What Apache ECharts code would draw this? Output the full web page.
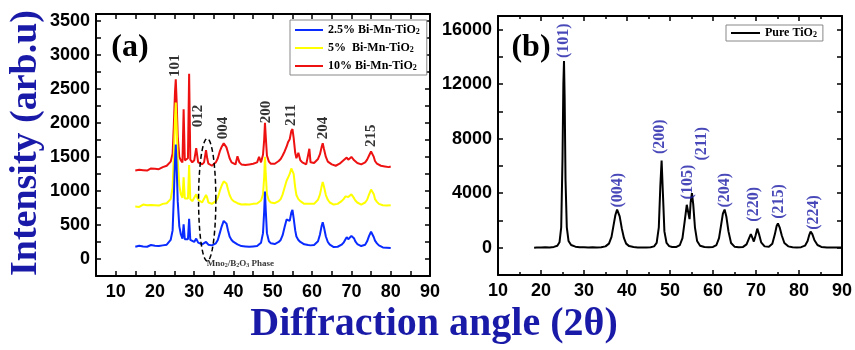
<!DOCTYPE html>
<html>
<head>
<meta charset="utf-8">
<script src="https://cdn.jsdelivr.net/npm/echarts@6/dist/echarts.min.js"></script>
<style>
  html, body { margin: 0; padding: 0; background: #fff; }
  #chart { width: 855px; height: 350px; }
</style>
</head>
<body>
<div id="chart"></div>
<script>
// 2-theta grid shared by the three doped samples (panel a)
var angleA = [
  15, 15.5, 16, 16.5, 17, 17.5, 18, 18.5, 19, 19.5,
  20, 20.5, 21, 21.5, 22, 22.5, 23, 23.5, 24, 24.5,
  24.8, 25.1, 25.3, 25.5, 25.8, 26.2, 26.6, 27.0, 27.3, 27.6,
  28.0, 28.4, 28.7, 29.0, 29.5, 30.0, 30.5, 31.0, 31.5, 32.0,
  32.5, 33.0, 33.3, 33.6, 34.0, 34.5, 35.0, 35.5, 36.0, 36.5,
  37.0, 37.5, 37.8, 38.2, 38.6, 39.0, 39.5, 40.0, 40.5, 41.0,
  41.5, 42.0, 42.5, 43.0, 43.5, 44.0, 44.5, 45.0, 45.5, 46.0,
  46.5, 47.0, 47.5, 47.8, 48.0, 48.2, 48.5, 49.0, 49.5, 50.0,
  50.5, 51.0, 51.5, 52.0, 52.5, 53.0, 53.5, 53.9, 54.3, 54.7,
  55.0, 55.3, 55.7, 56.0, 56.5, 57.0, 57.5, 58.0, 58.5, 59.0,
  59.3, 59.6, 60.0, 60.5, 61.0, 61.5, 62.0, 62.4, 62.7, 63.0,
  63.5, 64.0, 64.5, 65.0, 65.5, 66.0, 66.5, 67.0, 67.5, 68.0,
  68.5, 68.8, 69.2, 69.6, 70.0, 70.3, 70.7, 71.0, 71.5, 72.0,
  72.5, 73.0, 73.5, 74.0, 74.5, 75.0, 75.3, 75.7, 76.0, 76.5,
  77.0, 77.5, 78.0, 78.5, 79.0, 79.5, 80.0
];
var blue25 = [
  180, 170, 195, 175, 185, 200, 180, 190, 205, 185,
  195, 210, 190, 205, 200, 215, 210, 230, 280, 420,
  900, 1450, 1680, 1400, 850, 480, 360, 300, 510, 290,
  270, 290, 590, 280, 260, 250, 300, 240, 230, 215,
  220, 250, 235, 210, 215, 200, 210, 230, 280, 380,
  480, 560, 575, 520, 420, 330, 280, 250, 230, 215,
  200, 190, 175, 185, 170, 180, 165, 185, 175, 190,
  210, 240, 380, 700, 990, 720, 380, 260, 230, 210,
  220, 230, 250, 280, 350, 470, 580, 600, 560, 680,
  720, 600, 420, 330, 280, 250, 230, 215, 200, 205,
  220, 200, 195, 205, 220, 260, 360, 480, 540, 470,
  330, 250, 210, 190, 175, 165, 180, 190, 210, 240,
  290, 320, 290, 300, 340, 350, 300, 260, 220, 200,
  190, 195, 210, 260, 340, 400, 390, 320, 270, 230,
  200, 180, 170, 175, 165, 170, 160
];
var yellow5 = [
  770, 790, 765, 780, 800, 775, 790, 770, 795, 780,
  790, 805, 785, 800, 810, 795, 820, 830, 880, 1050,
  1500, 2050, 2300, 2000, 1450, 1080, 950, 900, 1200, 890,
  870, 890, 1380, 880, 850, 860, 950, 870, 850, 830,
  840, 940, 900, 830, 820, 810, 830, 850, 900, 1000,
  1080, 1140, 1160, 1110, 1020, 940, 880, 850, 830, 820,
  810, 800, 790, 805, 785, 800, 790, 810, 800, 815,
  830, 860, 950, 1200, 1500, 1250, 950, 860, 830, 815,
  820, 830, 850, 880, 950, 1050, 1150, 1200, 1250, 1330,
  1350, 1250, 1050, 940, 880, 850, 830, 810, 800, 810,
  830, 810, 800, 810, 830, 870, 950, 1060, 1130, 1070,
  940, 870, 830, 810, 800, 790, 810, 820, 850, 880,
  920, 940, 910, 920, 950, 930, 890, 860, 830, 815,
  800, 810, 830, 870, 950, 1020, 1010, 950, 880, 840,
  810, 800, 790, 800, 785, 795, 790
];
var red10 = [
  1300, 1290, 1310, 1285, 1305, 1320, 1300, 1315, 1330, 1310,
  1325, 1340, 1320, 1345, 1350, 1340, 1370, 1380, 1430, 1550,
  1950, 2450, 2640, 2350, 1800, 1500, 1450, 1420, 2200, 1450,
  1440, 1480, 2720, 1460, 1420, 1450, 1630, 1420, 1400, 1390,
  1420, 1600, 1480, 1400, 1380, 1370, 1390, 1420, 1480, 1580,
  1650, 1700, 1690, 1640, 1560, 1480, 1420, 1400, 1390, 1510,
  1420, 1390, 1370, 1380, 1360, 1390, 1370, 1400, 1380, 1420,
  1500, 1420, 1530, 1750, 2000, 1800, 1520, 1430, 1400, 1390,
  1400, 1420, 1440, 1470, 1520, 1580, 1650, 1720, 1760, 1880,
  1910, 1780, 1560, 1480, 1560, 1450, 1420, 1400, 1390, 1410,
  1620, 1420, 1400, 1410, 1430, 1470, 1540, 1640, 1700, 1620,
  1500, 1430, 1410, 1390, 1380, 1370, 1390, 1400, 1420, 1450,
  1470, 1490, 1460, 1480, 1500, 1490, 1450, 1430, 1410, 1400,
  1390, 1400, 1420, 1460, 1520, 1580, 1570, 1500, 1440, 1400,
  1380, 1370, 1380, 1360, 1370, 1350, 1360
];
var seriesNamesA = ['2.5% Bi-Mn-TiO2', '5%  Bi-Mn-TiO2', '10% Bi-Mn-TiO2'];

// pure TiO2 pattern (panel b): [2theta, intensity]
var pureTiO2 = [
  [18.4, 0], [19, 20], [20, 10], [21, 30], [22, 20], [23, 60], [23.8, 150], [24.3, 400],
  [24.7, 1500], [25.0, 6500], [25.2, 12000], [25.35, 13700], [25.5, 11000], [25.7, 5000],
  [26.0, 1500], [26.4, 500], [27.0, 200], [28, 80], [29, 40], [30, 30], [31, 20], [32, 30],
  [33, 20], [34, 40], [35, 100], [35.8, 300], [36.4, 800], [36.9, 1700], [37.3, 2400],
  [37.7, 2800], [37.9, 2750], [38.3, 2300], [38.8, 1400], [39.3, 700], [39.8, 300],
  [40.5, 120], [41.5, 50], [42.5, 20], [43.5, 10], [44.5, 20], [45.5, 40], [46.3, 100],
  [46.9, 350], [47.4, 1500], [47.75, 4500], [48.05, 6400], [48.35, 4000], [48.7, 1200],
  [49.2, 350], [49.8, 120], [50.5, 50], [51.5, 60], [52.3, 200], [52.9, 700], [53.4, 1900],
  [53.9, 3150], [54.3, 2500], [54.55, 2100], [54.8, 3300], [55.1, 4000], [55.4, 3200],
  [55.8, 1500], [56.3, 500], [57, 150], [58, 50], [59, 30], [60, 60], [60.8, 200],
  [61.4, 700], [61.9, 1700], [62.3, 2500], [62.7, 2800], [63.1, 2300], [63.6, 1200],
  [64.2, 350], [65, 80], [66, 30], [67, 60], [67.8, 250], [68.4, 700], [68.8, 1000],
  [69.2, 700], [69.5, 450], [69.9, 900], [70.3, 1400], [70.7, 1000], [71.2, 400], [72, 100],
  [73, 80], [73.8, 300], [74.4, 1000], [74.8, 1600], [75.1, 1780], [75.5, 1500], [76.0, 900],
  [76.6, 350], [77.5, 100], [78.5, 40], [79.5, 20], [80.5, 40], [81.4, 150], [82.0, 500],
  [82.4, 950], [82.7, 1180], [83.1, 1000], [83.6, 550], [84.3, 200], [85.2, 60], [86.5, 20],
  [88, 10], [89, 20], [90, 10]
];

// peak labels
var peaksA = ['101', '012', '004', '200', '211', '204', '215'];
var peaksAX = [25.1, 31.0, 37.3, 48.3, 54.6, 62.8, 75.0];
var peaksAY = [2840, 2100, 1925, 2160, 2115, 1925, 1810];
var peaksB = ['(101)', '(004)', '(200)', '(105)', '(211)', '(204)', '(220)', '(215)', '(224)'];
var peaksBX = [25.3, 37.8, 47.6, 54.1, 57.3, 62.7, 69.6, 75.4, 83.5];
var peaksBY = [15185, 4220, 8150, 4815, 7630, 4220, 3185, 3400, 2590];

// dashed ellipse round the MnO2/B2O3 region: centre x, centre y, radius x, radius y
var phaseEllipse = [33.3, 870, 2.2, 900];
var phaseLabelAt = [33.2, -75];

var serif = '"Liberation Serif", "Times New Roman", serif';
var sans = '"Liberation Sans", Arial, sans-serif';
var navy = '#1a1aa8';

function zip(xs, ys) {
  return xs.map(function (x, i) { return [x, ys[i]]; });
}

var tickLabel = { fontFamily: sans, fontWeight: 'bold', fontSize: 18, color: '#000' };
var frameLine = { show: true, onZero: false, lineStyle: { color: '#000', width: 2 } };
var tickIn = { show: true, inside: true, length: 5, lineStyle: { color: '#000', width: 1.5 } };

function axis(extra) {
  var base = {
    type: 'value', axisLine: frameLine, axisTick: tickIn,
    splitLine: { show: false }, axisLabel: { show: false }
  };
  return Object.assign(base, extra);
}

var chart = echarts.init(document.getElementById('chart'), null, { renderer: 'canvas' });

var option = {
  animation: false,
  backgroundColor: '#fff',
  grid: [
    { left: 96, top: 14, width: 334, height: 262 },
    { left: 498, top: 16, width: 345, height: 259 }
  ],
  xAxis: [
    axis({ gridIndex: 0, position: 'bottom', min: 5, max: 90, interval: 5,
      axisLabel: Object.assign({ margin: 7, formatter: function (v) { return v % 10 === 0 ? v : ''; } }, tickLabel) }),
    axis({ gridIndex: 0, position: 'top', min: 5, max: 90, interval: 5 }),
    axis({ gridIndex: 1, position: 'bottom', min: 10, max: 90, interval: 10,
      minorTick: { show: true, splitNumber: 2, length: 3, lineStyle: { color: '#000', width: 1.5 } },
      axisLabel: Object.assign({ margin: 7 }, tickLabel) }),
    axis({ gridIndex: 1, position: 'top', min: 10, max: 90, interval: 10,
      minorTick: { show: true, splitNumber: 2, length: 3, lineStyle: { color: '#000', width: 1.5 } } })
  ],
  yAxis: [
    axis({ gridIndex: 0, position: 'left', min: -250, max: 3600, interval: 250,
      axisLabel: Object.assign({ margin: 6, formatter: function (v) { return (v >= 0 && v % 500 === 0) ? v : ''; } }, tickLabel) }),
    axis({ gridIndex: 0, position: 'right', min: -250, max: 3600, interval: 250 }),
    axis({ gridIndex: 1, position: 'left', min: -2000, max: 17000, interval: 2000,
      axisLabel: Object.assign({ margin: 6, formatter: function (v) { return (v >= 0 && v % 4000 === 0) ? v : ''; } }, tickLabel) }),
    axis({ gridIndex: 1, position: 'right', min: -2000, max: 17000, interval: 2000 })
  ],
  legend: [
    {
      data: seriesNamesA, orient: 'vertical', left: 290, top: 20,
      icon: 'rect', itemWidth: 28, itemHeight: 2, itemGap: 6, padding: [4, 7, 3, 5],
      borderColor: '#888', borderWidth: 1, backgroundColor: '#fff', selectedMode: false,
      formatter: function (n) { return n.replace(/O2$/, 'O{s|2}'); },
      textStyle: {
        fontFamily: serif, fontWeight: 'bold', fontSize: 12, color: '#000',
        rich: { s: { fontFamily: serif, fontWeight: 'bold', fontSize: 8, verticalAlign: 'bottom', padding: [4, 0, 0, 0] } }
      }
    },
    {
      data: ['Pure TiO2'], orient: 'vertical', left: 726, top: 25,
      icon: 'rect', itemWidth: 29, itemHeight: 2, padding: [2, 6, 2, 5],
      borderColor: '#888', borderWidth: 1, backgroundColor: '#fff', selectedMode: false,
      formatter: function (n) { return n.replace(/O2$/, 'O{s|2}'); },
      textStyle: {
        fontFamily: serif, fontWeight: 'bold', fontSize: 12, color: '#000',
        rich: { s: { fontFamily: serif, fontWeight: 'bold', fontSize: 8, verticalAlign: 'bottom', padding: [4, 0, 0, 0] } }
      }
    }
  ],
  graphic: [
    { type: 'text', x: 130, y: 48, style: { text: '(a)', font: 'bold 32px ' + serif, fill: '#000', align: 'center', verticalAlign: 'middle' } },
    { type: 'text', x: 531, y: 48, style: { text: '(b)', font: 'bold 32px ' + serif, fill: '#000', align: 'center', verticalAlign: 'middle' } },
    { type: 'text', x: 26, y: 143, rotation: Math.PI / 2, style: { text: 'Intensity (arb.u)', font: 'bold 38px ' + serif, fill: navy, align: 'center', verticalAlign: 'middle' } },
    { type: 'text', x: 434, y: 325, style: { text: 'Diffraction angle (2\u03b8)', font: 'bold 40px ' + serif, fill: navy, align: 'center', verticalAlign: 'middle' } }
  ],
  series: [
    { type: 'line', name: seriesNamesA[2], xAxisIndex: 0, yAxisIndex: 0, data: zip(angleA, red10),
      showSymbol: false, lineStyle: { color: '#ee1111', width: 2 }, itemStyle: { color: '#ee1111' } },
    { type: 'line', name: seriesNamesA[1], xAxisIndex: 0, yAxisIndex: 0, data: zip(angleA, yellow5),
      showSymbol: false, lineStyle: { color: '#ffff00', width: 2 }, itemStyle: { color: '#ffff00' } },
    { type: 'line', name: seriesNamesA[0], xAxisIndex: 0, yAxisIndex: 0, data: zip(angleA, blue25),
      showSymbol: false, lineStyle: { color: '#0a2bff', width: 2 }, itemStyle: { color: '#0a2bff' } },
    { type: 'line', name: 'Pure TiO2', xAxisIndex: 2, yAxisIndex: 2, data: pureTiO2,
      showSymbol: false, lineStyle: { color: '#000', width: 2 }, itemStyle: { color: '#000' } },
    {
      type: 'custom', xAxisIndex: 0, yAxisIndex: 0, silent: true, z: 5,
      data: [phaseEllipse],
      renderItem: function (params, api) {
        var cx = api.value(0), cy = api.value(1), rx = api.value(2), ry = api.value(3);
        var pts = [];
        for (var i = 0; i <= 72; i++) {
          var t = i / 72 * 2 * Math.PI;
          pts.push(api.coord([cx + rx * Math.cos(t), cy + ry * Math.sin(t)]));
        }
        return { type: 'polyline', shape: { points: pts },
          style: { stroke: '#000', lineWidth: 1.5, lineDash: [5, 3], fill: null } };
      }
    },
    {
      type: 'scatter', xAxisIndex: 0, yAxisIndex: 0, symbolSize: 0, silent: true, z: 6,
      data: [phaseLabelAt],
      label: {
        show: true, position: 'right', distance: 0,
        formatter: 'Mno{s|2}/B{s|2}O{s|3} Phase',
        fontFamily: serif, fontWeight: 'bold', fontSize: 9, color: '#000',
        rich: { s: { fontFamily: serif, fontWeight: 'bold', fontSize: 6, verticalAlign: 'bottom', padding: [3, 0, 0, 0] } }
      }
    },
    {
      type: 'scatter', xAxisIndex: 0, yAxisIndex: 0, symbolSize: 0, silent: true, z: 6,
      data: peaksA.map(function (t, i) { return { name: t, value: [peaksAX[i], peaksAY[i]] }; }),
      label: { show: true, position: 'inside', rotate: 90, formatter: '{b}',
        fontFamily: serif, fontWeight: 'bold', fontSize: 15, color: '#000' }
    },
    {
      type: 'scatter', xAxisIndex: 2, yAxisIndex: 2, symbolSize: 0, silent: true, z: 6,
      data: peaksB.map(function (t, i) { return { name: t, value: [peaksBX[i], peaksBY[i]] }; }),
      label: { show: true, position: 'inside', rotate: 90, formatter: '{b}',
        fontFamily: serif, fontWeight: 'bold', fontSize: 16, color: navy }
    }
  ]
};

chart.setOption(option);
</script>
</body>
</html>
